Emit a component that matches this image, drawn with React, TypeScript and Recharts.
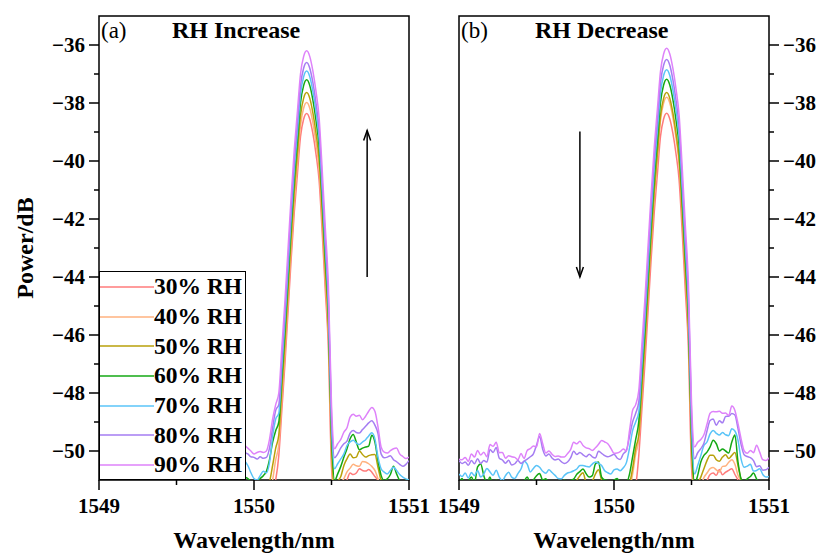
import React from "react";
import { LineChart, Line, XAxis, YAxis, ReferenceArea, ReferenceLine, Legend } from "recharts";

const serif = "'Liberation Serif', 'Times New Roman', serif";

const wavelength = [
  1549.0, 1549.02, 1549.04, 1549.06, 1549.08, 1549.1, 1549.12, 1549.14, 1549.16, 1549.18,
  1549.2, 1549.22, 1549.24, 1549.26, 1549.28, 1549.3, 1549.32, 1549.34, 1549.36, 1549.38,
  1549.4, 1549.42, 1549.44, 1549.46, 1549.48, 1549.5, 1549.52, 1549.54, 1549.56, 1549.58,
  1549.6, 1549.62, 1549.64, 1549.66, 1549.68, 1549.7, 1549.72, 1549.74, 1549.76, 1549.78,
  1549.8, 1549.82, 1549.84, 1549.86, 1549.88, 1549.9, 1549.92, 1549.94, 1549.96, 1549.98,
  1550.0, 1550.02, 1550.04, 1550.06, 1550.08, 1550.1, 1550.12, 1550.14, 1550.16, 1550.18,
  1550.2, 1550.22, 1550.24, 1550.26, 1550.28, 1550.3, 1550.32, 1550.34, 1550.36, 1550.38,
  1550.4, 1550.42, 1550.44, 1550.46, 1550.48, 1550.5, 1550.52, 1550.54, 1550.56, 1550.58,
  1550.6, 1550.62, 1550.64, 1550.66, 1550.68, 1550.7, 1550.72, 1550.74, 1550.76, 1550.78,
  1550.8, 1550.82, 1550.84, 1550.86, 1550.88, 1550.9, 1550.92, 1550.94, 1550.96, 1550.98,
  1551.0,
];

const seriesNames = ["30% RH", "40% RH", "50% RH", "60% RH", "70% RH", "80% RH", "90% RH"];
const seriesKeys = ["rh30", "rh40", "rh50", "rh60", "rh70", "rh80", "rh90"];
const seriesColors = ["#ff7b7b", "#ffb27f", "#b8a10a", "#14a814", "#5ac4f8", "#a57df2", "#de82fa"];

const xTicks = [1549, 1549.5, 1550, 1550.5, 1551];
const yTicks = [-50, -49, -48, -47, -46, -45, -44, -43, -42, -41, -40, -39, -38, -37, -36];

// arrows (wavelength, power) start -> tip
const incArrow = [{ x: 1550.73, y: -44 }, { x: 1550.73, y: -38.95 }];
const decArrow = [{ x: 1549.78, y: -38.98 }, { x: 1549.78, y: -44 }];

// (a) RH increase
const incRH30 = [
  -51.9, -51.8, -52.0, -51.85, -51.75, -51.95, -51.8, -51.7, -51.9, -52.0,
  -51.8, -51.95, -51.85, -52.0, -52.05, -51.9, -52.0, -51.95, -52.1, -51.9,
  -52.0, -51.85, -51.75, -51.9, -51.8, -51.7, -51.75, -51.85, -51.8, -51.9,
  -51.85, -51.95, -51.9, -51.95, -51.85, -51.95, -51.8, -51.75, -51.6, -51.5,
  -51.55, -51.7, -51.8, -51.65, -51.5, -51.45, -51.7, -51.8, -51.85, -51.9,
  -51.85, -51.8, -51.9, -51.85, -51.8, -51.7, -51.4, -51.0, -50.16, -48.56,
  -46.96, -45.16, -43.36, -41.76, -40.46, -39.16, -38.56, -38.36, -38.56, -39.06,
  -39.76, -40.66, -42.46, -44.46, -46.46, -50.56, -51.5, -51.6, -51.4, -51.3,
  -51.0, -50.76, -50.81, -50.76, -50.61, -50.67, -50.69, -50.64, -50.73, -50.88,
  -51.02, -51.3, -51.6, -51.7, -51.8, -51.65, -51.75, -51.8, -51.9, -51.75, -51.8,
];
const incRH40 = [
  -51.6, -51.5, -51.7, -51.55, -51.45, -51.65, -51.5, -51.4, -51.6, -51.7,
  -51.5, -51.65, -51.55, -51.7, -51.75, -51.6, -51.7, -51.65, -51.8, -51.6,
  -51.7, -51.55, -51.45, -51.6, -51.5, -51.4, -51.45, -51.55, -51.5, -51.6,
  -51.55, -51.65, -51.6, -51.65, -51.55, -51.65, -51.5, -51.45, -51.3, -51.2,
  -51.25, -51.4, -51.5, -51.35, -51.2, -51.15, -51.4, -51.5, -51.55, -51.6,
  -51.55, -51.5, -51.6, -51.55, -51.5, -51.4, -51.0, -50.3, -49.78, -48.18,
  -46.58, -44.78, -42.98, -41.38, -40.08, -38.78, -38.18, -37.98, -38.18, -38.68,
  -39.38, -40.28, -42.08, -44.08, -46.08, -50.18, -51.5, -51.3, -51.1, -50.95,
  -50.72, -50.59, -50.46, -50.51, -50.53, -50.36, -50.38, -50.44, -50.53, -50.67,
  -50.96, -51.3, -51.5, -51.6, -51.55, -51.65, -51.6, -51.7, -51.65, -51.75, -51.7,
];
const incRH50 = [
  -51.4, -51.3, -51.5, -51.35, -51.25, -51.45, -51.3, -51.2, -51.4, -51.5,
  -51.3, -51.45, -51.35, -51.5, -51.55, -51.4, -51.5, -51.45, -51.6, -51.4,
  -51.5, -51.35, -51.25, -51.4, -51.3, -51.2, -51.25, -51.35, -51.3, -51.4,
  -51.35, -51.45, -51.4, -51.45, -51.35, -51.45, -51.3, -51.25, -51.1, -50.95,
  -51.0, -51.2, -51.3, -51.15, -51.0, -50.9, -51.2, -51.3, -51.35, -51.4,
  -51.35, -51.3, -51.4, -51.3, -51.2, -51.05, -50.5, -49.9, -49.44, -47.84,
  -46.24, -44.44, -42.64, -41.04, -39.74, -38.44, -37.84, -37.64, -37.84, -38.34,
  -39.04, -39.94, -41.74, -43.74, -45.74, -49.84, -51.3, -51.05, -50.88, -50.5,
  -50.27, -50.1, -50.23, -50.21, -50.0, -50.12, -50.21, -50.16, -50.13, -50.12,
  -50.56, -51.02, -51.25, -51.35, -51.3, -51.45, -51.4, -51.5, -51.45, -51.55, -51.5,
];
const incRH60 = [
  -51.1, -50.95, -51.2, -51.05, -50.9, -51.1, -50.8, -50.7, -50.9, -51.1,
  -50.95, -51.2, -51.0, -51.15, -51.2, -51.05, -51.2, -51.1, -51.25, -51.1,
  -51.2, -51.05, -50.9, -51.1, -51.0, -50.9, -50.85, -51.0, -50.95, -51.1,
  -51.0, -51.15, -51.05, -51.1, -51.0, -51.15, -51.0, -50.95, -50.85, -50.75,
  -50.7, -50.8, -50.9, -50.85, -50.6, -50.5, -50.85, -50.9, -50.95, -51.05,
  -51.1, -51.05, -50.95, -50.85, -50.7, -50.3, -49.7, -49.3, -49.0, -47.4,
  -45.8, -44.0, -42.2, -40.6, -39.3, -38.0, -37.4, -37.2, -37.4, -37.9,
  -38.6, -39.5, -41.3, -43.3, -45.3, -49.4, -51.02, -50.79, -50.53, -50.21,
  -49.92, -49.58, -49.43, -49.69, -49.96, -49.9, -49.86, -49.83, -49.46, -49.69,
  -50.33, -50.84, -51.02, -50.96, -50.81, -50.53, -50.79, -51.02, -51.1, -51.0, -51.05,
];
const incRH70 = [
  -50.8, -50.9, -50.7, -50.95, -50.75, -50.85, -50.65, -50.9, -50.8, -50.6,
  -50.75, -50.85, -50.7, -50.9, -51.05, -50.85, -50.75, -50.9, -50.95, -50.8,
  -50.65, -50.5, -50.6, -50.75, -50.6, -50.55, -50.6, -50.7, -50.75, -50.65,
  -50.75, -50.85, -50.95, -50.9, -50.8, -50.75, -50.7, -50.65, -50.6, -50.5,
  -50.5, -50.55, -50.5, -50.45, -50.4, -50.3, -50.3, -50.35, -50.5, -50.75,
  -50.95, -51.0, -50.85, -50.7, -50.75, -50.4, -49.5, -48.9, -48.7, -47.1,
  -45.5, -43.7, -41.9, -40.3, -39.0, -37.7, -37.1, -36.9, -37.1, -37.6,
  -38.3, -39.2, -41.0, -43.0, -45.0, -49.1, -50.61, -50.44, -50.27, -50.1,
  -49.81, -49.69, -49.63, -49.73, -49.78, -49.69, -49.61, -49.48, -49.37, -49.58,
  -50.21, -50.61, -50.73, -50.79, -50.67, -50.56, -50.67, -50.81, -50.9, -50.96, -50.99,
];
const incRH80 = [
  -50.35, -50.3, -50.45, -50.25, -50.2, -50.4, -50.3, -50.15, -50.35, -50.45,
  -50.2, -50.3, -50.1, -50.25, -50.4, -50.5, -50.3, -50.4, -50.25, -50.15,
  -50.35, -50.2, -50.4, -50.25, -50.0, -50.15, -50.3, -50.2, -50.35, -50.3,
  -50.2, -50.45, -50.25, -50.15, -50.3, -50.2, -50.35, -50.1, -50.25, -50.2,
  -50.05, -50.2, -50.1, -50.0, -49.95, -50.0, -49.95, -50.05, -50.1, -50.2,
  -50.22, -50.28, -50.2, -50.25, -50.22, -49.9, -49.2, -48.6, -48.4, -46.8,
  -45.2, -43.4, -41.6, -40.0, -38.7, -37.4, -36.8, -36.6, -36.8, -37.3,
  -38.0, -38.9, -40.7, -42.7, -44.7, -48.8, -50.23, -50.1, -49.89, -49.75,
  -49.66, -49.38, -49.29, -49.36, -49.38, -49.26, -49.15, -49.03, -48.96, -49.11,
  -49.4, -50.1, -50.23, -50.21, -50.16, -50.3, -50.37, -50.46, -50.53, -50.46, -50.33,
];
const incRH90 = [
  -50.2, -50.1, -50.25, -50.05, -49.9, -50.15, -50.0, -49.85, -50.1, -50.2,
  -49.95, -50.05, -49.8, -50.0, -50.15, -50.3, -50.1, -50.2, -50.05, -49.9,
  -50.1, -49.95, -50.15, -50.0, -49.7, -49.85, -50.0, -49.9, -50.1, -50.05,
  -49.95, -50.2, -50.0, -49.85, -50.05, -49.9, -50.1, -49.8, -50.0, -49.9,
  -49.75, -49.95, -49.85, -49.7, -49.6, -49.75, -49.7, -49.8, -49.9, -50.0,
  -50.1, -50.05, -50.02, -50.05, -50.0, -49.6, -48.9, -48.4, -48.0, -46.4,
  -44.8, -43.0, -41.2, -39.6, -38.3, -37.0, -36.4, -36.2, -36.4, -36.9,
  -37.6, -38.5, -40.3, -42.3, -44.3, -48.4, -49.92, -49.75, -49.6, -49.35,
  -49.2, -48.83, -48.73, -48.8, -48.77, -48.92, -48.8, -48.63, -48.5, -48.63,
  -49.17, -49.86, -50.04, -50.07, -49.99, -49.92, -49.9, -50.1, -50.19, -50.26, -50.21,
];

// (b) RH decrease
const decRH30 = [
  -51.9, -51.8, -52.0, -51.85, -51.75, -51.95, -51.8, -51.7, -51.9, -52.0,
  -51.8, -51.95, -51.85, -52.0, -52.05, -51.9, -52.0, -51.95, -52.1, -51.9,
  -52.0, -51.85, -51.75, -51.9, -51.8, -51.7, -51.75, -51.85, -51.8, -51.9,
  -51.85, -51.95, -51.9, -51.95, -51.85, -51.95, -51.8, -51.75, -51.6, -51.5,
  -51.55, -51.7, -51.8, -51.65, -51.5, -51.45, -51.7, -51.8, -51.85, -51.9,
  -51.8, -51.75, -51.85, -51.8, -51.75, -51.7, -51.5, -51.2, -50.15, -48.55,
  -46.95, -45.15, -43.35, -41.75, -40.45, -39.15, -38.55, -38.35, -38.55, -39.05,
  -39.75, -40.65, -42.45, -44.45, -46.45, -50.55, -51.5, -51.6, -51.4, -51.2,
  -51.02, -50.81, -50.76, -50.84, -50.64, -50.82, -50.73, -50.67, -50.61, -50.81,
  -51.0, -51.3, -51.6, -51.7, -51.8, -51.65, -51.75, -51.8, -51.9, -51.75, -51.8,
];
const decRH40 = [
  -51.6, -51.5, -51.7, -51.55, -51.45, -51.65, -51.5, -51.4, -51.6, -51.7,
  -51.5, -51.65, -51.55, -51.7, -51.75, -51.6, -51.7, -51.65, -51.8, -51.6,
  -51.7, -51.55, -51.45, -51.6, -51.5, -51.4, -51.45, -51.55, -51.5, -51.6,
  -51.55, -51.65, -51.6, -51.65, -51.55, -51.65, -51.5, -51.45, -51.3, -51.2,
  -51.25, -51.4, -51.5, -51.35, -51.2, -51.15, -51.4, -51.5, -51.55, -51.6,
  -51.5, -51.45, -51.55, -51.5, -51.45, -51.3, -50.8, -50.1, -49.6, -48.0,
  -46.4, -44.6, -42.8, -41.2, -39.9, -38.6, -38.0, -37.8, -38.0, -38.5,
  -39.2, -40.1, -41.9, -43.9, -45.9, -50.0, -51.4, -51.4, -51.2, -50.92,
  -50.76, -50.61, -50.57, -50.65, -50.72, -50.53, -50.52, -50.39, -50.3, -50.46,
  -50.84, -51.05, -51.4, -51.5, -51.6, -51.45, -51.55, -51.6, -51.7, -51.55, -51.6,
];
const decRH50 = [
  -51.4, -51.3, -51.5, -51.35, -51.25, -51.45, -51.2, -51.15, -51.3, -51.45,
  -51.3, -51.45, -51.35, -51.5, -51.55, -51.4, -51.5, -51.45, -51.6, -51.4,
  -51.5, -51.35, -51.25, -51.4, -51.3, -51.2, -51.15, -51.35, -51.3, -51.4,
  -51.3, -51.45, -51.35, -51.4, -51.3, -51.35, -51.2, -51.1, -51.0, -50.85,
  -50.75, -51.1, -51.2, -51.05, -50.8, -50.65, -51.0, -51.2, -51.3, -51.35,
  -51.3, -51.25, -51.35, -51.3, -51.2, -51.1, -50.6, -49.9, -49.44, -47.84,
  -46.24, -44.44, -42.64, -41.04, -39.74, -38.44, -37.84, -37.64, -37.84, -38.34,
  -39.04, -39.94, -41.74, -43.74, -45.74, -49.84, -51.3, -51.1, -50.9, -50.61,
  -50.33, -50.15, -50.15, -50.3, -50.35, -50.21, -50.13, -50.26, -50.15, -50.05,
  -50.5, -51.0, -51.3, -51.2, -51.4, -51.3, -51.45, -51.35, -51.5, -51.4, -51.45,
];
const decRH60 = [
  -51.1, -50.95, -51.2, -51.05, -50.9, -51.1, -50.55, -50.45, -50.85, -51.1,
  -50.9, -51.2, -51.0, -51.15, -51.2, -51.05, -51.2, -51.1, -51.25, -51.1,
  -51.2, -51.05, -50.9, -51.1, -51.0, -50.85, -50.78, -51.0, -50.96, -51.1,
  -51.02, -51.15, -51.02, -51.1, -51.0, -51.15, -51.02, -50.97, -50.8, -50.71,
  -50.62, -50.78, -50.9, -50.85, -50.45, -50.38, -50.9, -51.0, -51.02, -51.1,
  -51.0, -50.95, -51.1, -51.05, -51.1, -50.8, -50.2, -49.6, -48.98, -47.38,
  -45.78, -43.98, -42.18, -40.58, -39.28, -37.98, -37.38, -37.18, -37.38, -37.88,
  -38.58, -39.48, -41.28, -43.28, -45.28, -49.38, -51.13, -50.84, -50.38, -50.15,
  -50.04, -49.86, -49.63, -49.75, -50.0, -49.93, -50.0, -50.07, -49.69, -49.45,
  -50.38, -50.96, -51.07, -50.96, -50.88, -50.76, -50.96, -51.07, -51.02, -51.1, -51.05,
];
const decRH70 = [
  -50.79, -50.88, -50.76, -50.93, -50.74, -50.85, -50.67, -50.9, -50.79, -50.6,
  -50.72, -50.84, -50.66, -50.9, -51.02, -50.85, -50.73, -50.9, -50.95, -50.78,
  -50.62, -50.35, -50.45, -50.72, -50.6, -50.5, -50.56, -50.7, -50.77, -50.65,
  -50.74, -50.84, -50.95, -50.96, -50.84, -50.76, -50.73, -50.68, -50.62, -50.5,
  -50.5, -50.53, -50.55, -50.45, -50.38, -50.43, -50.5, -50.68, -50.75, -50.79,
  -50.65, -50.62, -50.68, -50.58, -50.4, -49.9, -49.3, -49.0, -48.65, -47.05,
  -45.45, -43.65, -41.85, -40.25, -38.95, -37.65, -37.05, -36.85, -37.05, -37.55,
  -38.25, -39.15, -40.95, -42.95, -44.95, -49.05, -50.79, -50.5, -50.16, -49.81,
  -49.69, -49.41, -49.29, -49.39, -49.45, -49.36, -49.44, -49.47, -49.23, -49.31,
  -49.63, -50.28, -50.56, -50.52, -50.46, -50.69, -50.67, -50.61, -50.81, -50.9, -50.88,
];
const decRH80 = [
  -50.33, -50.43, -50.38, -50.49, -50.33, -50.44, -50.27, -50.43, -50.33, -50.38,
  -49.95, -50.05, -49.88, -50.25, -50.31, -50.42, -50.32, -50.48, -50.44, -50.33,
  -50.43, -50.35, -50.28, -50.2, -50.1, -49.8, -49.5, -49.94, -50.17, -50.1,
  -50.24, -50.31, -50.28, -50.37, -50.43, -50.38, -50.24, -50.01, -50.12, -50.05,
  -50.13, -50.2, -50.11, -50.2, -50.24, -50.01, -50.08, -50.16, -50.2, -50.16,
  -50.11, -50.24, -50.29, -50.1, -49.98, -49.5, -49.0, -48.7, -48.3, -46.7,
  -45.1, -43.3, -41.5, -39.9, -38.6, -37.3, -36.7, -36.5, -36.7, -37.2,
  -37.9, -38.8, -40.6, -42.6, -44.6, -48.7, -50.27, -50.06, -49.92, -49.73,
  -49.31, -48.95, -48.9, -49.11, -48.96, -49.03, -48.81, -48.8, -48.71, -48.76,
  -49.23, -49.78, -50.13, -50.19, -50.23, -50.33, -50.54, -50.51, -50.66, -50.65, -50.56,
];
const decRH90 = [
  -50.28, -50.3, -50.22, -50.36, -50.1, -50.21, -49.98, -50.14, -50.04, -50.2,
  -49.78, -49.84, -49.7, -50.06, -50.05, -50.25, -50.16, -50.2, -50.22, -50.3,
  -50.09, -50.26, -49.98, -49.92, -49.83, -49.86, -49.4, -49.75, -50.07, -50.0,
  -50.11, -50.19, -50.17, -50.21, -50.21, -50.09, -49.95, -49.7, -49.75, -49.66,
  -49.81, -49.89, -49.92, -49.98, -49.89, -49.77, -49.64, -49.69, -49.75, -49.91,
  -50.08, -50.07, -50.02, -49.93, -50.0, -49.3, -48.6, -48.4, -47.91, -46.31,
  -44.71, -42.91, -41.11, -39.51, -38.21, -36.91, -36.31, -36.11, -36.31, -36.81,
  -37.51, -38.41, -40.21, -42.21, -44.21, -48.3, -49.86, -49.7, -49.6, -49.44,
  -49.08, -48.7, -48.64, -48.65, -48.63, -48.7, -48.69, -48.78, -48.45, -48.6,
  -49.06, -49.58, -50.0, -50.08, -49.98, -50.06, -49.8, -50.04, -50.3, -50.33, -50.23,
];

const buildRows = (cols: number[][]) =>
  wavelength.map((wl, i) => {
    const row: Record<string, number> = { wl };
    cols.forEach((c, k) => {
      row[seriesKeys[k]] = c[i];
    });
    return row;
  });

const incRows = buildRows([incRH30, incRH40, incRH50, incRH60, incRH70, incRH80, incRH90]);
const decRows = buildRows([decRH30, decRH40, decRH50, decRH60, decRH70, decRH80, decRH90]);

const fmt = (v: number) => (v < 0 ? `\u2212${Math.abs(v)}` : `${v}`);

function XTick(props: any) {
  const { x, y, payload } = props;
  const major = Number.isInteger(payload.value);
  return (
    <g>
      <line x1={x} y1={y} x2={x} y2={y + (major ? 10 : 5)} stroke="#000" strokeWidth={1.5} />
      {major && (
        <text x={x} y={y + 33} textAnchor="middle" fontFamily={serif} fontWeight="bold" fontSize={21} fill="#000">
          {payload.value}
        </text>
      )}
    </g>
  );
}

function YTick(props: any) {
  const { x, y, payload, orientation } = props;
  const major = payload.value % 2 === 0;
  const dir = orientation === "right" ? 1 : -1;
  const len = major ? 10 : 5;
  return (
    <g>
      <line x1={x} y1={y} x2={x + dir * len} y2={y} stroke="#000" strokeWidth={1.5} />
      {major && (
        <text
          x={x + dir * 14}
          y={y}
          dy="0.34em"
          textAnchor={dir > 0 ? "start" : "end"}
          fontFamily={serif}
          fontWeight="bold"
          fontSize={21}
          fill="#000"
        >
          {fmt(payload.value)}
        </text>
      )}
    </g>
  );
}

const arrowShape = (p: any) => {
  const { x1, y1, x2, y2 } = p;
  const dir = y2 > y1 ? 1 : -1;
  return (
    <g>
      <line x1={x1} y1={y1} x2={x2} y2={y2} stroke="#000" strokeWidth={1.5} />
      <path
        d={`M${x2 - 3.5},${y2 - dir * 10} L${x2},${y2} L${x2 + 3.5},${y2 - dir * 10}`}
        fill="none"
        stroke="#000"
        strokeWidth={1.5}
      />
    </g>
  );
};

const renderLegend = (props: any) => {
  const { payload } = props;
  return (
    <div
      style={{
        boxSizing: "border-box",
        width: 147,
        height: 209,
        border: "1.5px solid #000",
        background: "#fff",
      }}
    >
      {(payload || []).map((entry: any) => (
        <div key={entry.value} style={{ display: "flex", alignItems: "center", height: 29.7 }}>
          <svg width={54} height={4} style={{ flex: "none" }}>
            <line x1={0} y1={2} x2={54} y2={2} stroke={entry.color} strokeWidth={1.5} />
          </svg>
          <span style={{ fontFamily: serif, fontWeight: "bold", fontSize: 23.5, lineHeight: "23px", color: "#000", whiteSpace: "nowrap" }}>
            {entry.value}
          </span>
        </div>
      ))}
    </div>
  );
};

function Panel({ rows, side, arrow }: { rows: Record<string, number>[]; side: "left" | "right"; arrow: { x: number; y: number }[] }) {
  const isLeft = side === "left";
  return (
    <LineChart
      width={isLeft ? 440 : 398}
      height={556}
      data={rows}
      margin={isLeft ? { top: 16, right: 31, bottom: 46, left: 39 } : { top: 16, right: 9, bottom: 46, left: 39 }}
    >
      <XAxis
        dataKey="wl"
        type="number"
        domain={[1549, 1551]}
        ticks={xTicks}
        allowDataOverflow
        axisLine={false}
        tickLine={false}
        tickSize={0}
        tickMargin={0}
        height={30}
        tick={<XTick />}
        interval={0}
      />
      <YAxis
        type="number"
        orientation={side}
        domain={[-51, -35]}
        ticks={yTicks}
        allowDataOverflow
        axisLine={false}
        tickLine={false}
        tickSize={0}
        tickMargin={0}
        width={isLeft ? 60 : 40}
        tick={<YTick orientation={side} />}
        interval={0}
      />
      {seriesKeys.map((k, i) => (
        <Line
          key={k}
          dataKey={k}
          name={seriesNames[i]}
          type="monotone"
          stroke={seriesColors[i]}
          strokeWidth={1.5}
          dot={false}
          activeDot={false}
          isAnimationActive={false}
        />
      ))}
      <ReferenceArea x1={1549} x2={1551} y1={-51} y2={-35} fill="none" stroke="#000" strokeWidth={1.5} />
      <ReferenceLine segment={arrow} shape={arrowShape} />
      {isLeft && (
        <Legend
          layout="vertical"
          align="center"
          verticalAlign="middle"
          content={renderLegend}
          wrapperStyle={{ left: 99, top: 271, width: 147, height: 209 }}
        />
      )}
    </LineChart>
  );
}

const textBase: React.CSSProperties = {
  position: "absolute",
  fontFamily: serif,
  color: "#000",
  whiteSpace: "nowrap",
  fontSize: 23,
  lineHeight: "23px",
};

export default function App() {
  return (
    <div style={{ position: "absolute", left: 0, top: 0, width: 818, height: 556, background: "#fff", overflow: "hidden" }}>
      <div style={{ position: "absolute", left: 0, top: 0 }}>
        <Panel rows={incRows} side="left" arrow={incArrow} />
      </div>
      <div style={{ position: "absolute", left: 420, top: 0 }}>
        <Panel rows={decRows} side="right" arrow={decArrow} />
      </div>
      <div style={{ ...textBase, left: 101, top: 19 }}>(a)</div>
      <div style={{ ...textBase, left: 172, top: 19, fontSize: 24, fontWeight: "bold" }}>RH Increase</div>
      <div style={{ ...textBase, left: 461, top: 19 }}>(b)</div>
      <div style={{ ...textBase, left: 535, top: 19, fontSize: 24, fontWeight: "bold" }}>RH Decrease</div>
      <div
        style={{
          ...textBase,
          fontSize: 24,
          lineHeight: "24px",
          fontWeight: "bold",
          left: 25,
          top: 248,
          transform: "translate(-50%, -50%) rotate(-90deg)",
        }}
      >
        Power/dB
      </div>
      <div style={{ ...textBase, fontSize: 24, lineHeight: "24px", fontWeight: "bold", left: 254, top: 528, transform: "translateX(-50%)" }}>
        Wavelength/nm
      </div>
      <div style={{ ...textBase, fontSize: 24, lineHeight: "24px", fontWeight: "bold", left: 614, top: 528, transform: "translateX(-50%)" }}>
        Wavelength/nm
      </div>
    </div>
  );
}
